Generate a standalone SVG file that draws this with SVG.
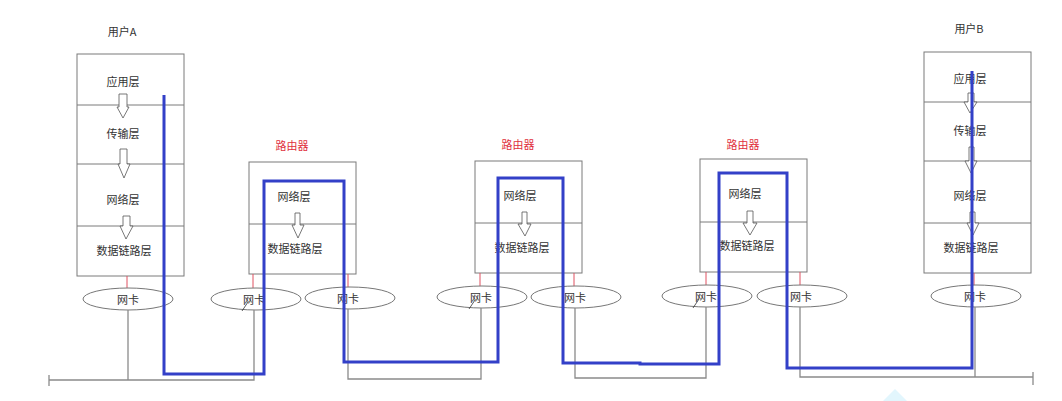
<svg xmlns="http://www.w3.org/2000/svg" width="1062" height="401" viewBox="0 0 1062 401">
<style>
.box{fill:#fff;stroke:#7a7a7a;stroke-width:1}
.div{stroke:#7a7a7a;stroke-width:1}
.t{font-family:"Noto Sans CJK SC","Liberation Sans",sans-serif;font-size:11px;fill:#333;text-anchor:middle;dominant-baseline:central}
.r{font-family:"Noto Sans CJK SC","Liberation Sans",sans-serif;font-size:11px;fill:#e0303c;text-anchor:middle;dominant-baseline:central}
.arr{fill:#fff;stroke:#555;stroke-width:0.8}
.nic{fill:#fff;stroke:#777;stroke-width:1}
.red{stroke:#e05060;stroke-width:1}
.wire{fill:none;stroke:#8a8a8a;stroke-width:1.3}
.path{fill:none;stroke:#3340c8;stroke-width:3;stroke-linejoin:miter}
.tick{stroke:#333;stroke-width:0.8}
</style>
<rect width="1062" height="401" fill="#fff"/>
<polygon points="895,389 883,401 907,401" fill="#e2f6fd"/>

<g id="userA">
<text class="t" x="122" y="31">用户A</text>
<rect class="box" x="77" y="54" width="107" height="222"/>
<line class="div" x1="77" y1="105" x2="184" y2="105"/>
<line class="div" x1="77" y1="164" x2="184" y2="164"/>
<line class="div" x1="77" y1="226" x2="184" y2="226"/>
<text class="t" x="123" y="81">应用层</text>
<text class="t" x="123" y="133">传输层</text>
<text class="t" x="123" y="199">网络层</text>
<text class="t" x="124" y="250">数据链路层</text>
<polygon class="arr" points="119,94 127,94 127,107 129,107 123,118 117,107 119,107"/>
<polygon class="arr" points="120,149 127,149 127,164 130,164 124,178 118,164 120,164"/>
<polygon class="arr" points="123,216 130,216 130,226 133,226 126,239 120,226 123,226"/>
</g>

<g id="routerA">
<text class="r" x="292" y="145">路由器</text>
<rect class="box" x="249" y="162" width="107" height="112"/>
<line class="div" x1="249" y1="224" x2="356" y2="224"/>
<text class="t" x="294" y="196">网络层</text>
<text class="t" x="295" y="248">数据链路层</text>
<polygon class="arr" points="295,213 300,213 300,225 304,225 298,238 292,225 295,225"/>
</g>

<g id="routerB">
<text class="r" x="518" y="144">路由器</text>
<rect class="box" x="475" y="161" width="107" height="112"/>
<line class="div" x1="475" y1="223" x2="582" y2="223"/>
<text class="t" x="520" y="195">网络层</text>
<text class="t" x="522" y="247">数据链路层</text>
<polygon class="arr" points="522,212 527,212 527,224 531,224 525,236 518,224 522,224"/>
</g>

<g id="routerC">
<text class="r" x="743" y="144">路由器</text>
<rect class="box" x="700" y="159" width="107" height="113"/>
<line class="div" x1="700" y1="222" x2="807" y2="222"/>
<text class="t" x="745" y="193">网络层</text>
<text class="t" x="747" y="245">数据链路层</text>
<polygon class="arr" points="747,211 753,211 753,223 757,223 750,235 743,223 747,223"/>
</g>

<g id="userB">
<text class="t" x="969" y="28">用户B</text>
<rect class="box" x="924" y="52" width="107" height="221"/>
<line class="div" x1="924" y1="102" x2="1031" y2="102"/>
<line class="div" x1="924" y1="161" x2="1031" y2="161"/>
<line class="div" x1="924" y1="223" x2="1031" y2="223"/>
<text class="t" x="970" y="78">应用层</text>
<text class="t" x="970" y="130">传输层</text>
<text class="t" x="970" y="195">网络层</text>
<text class="t" x="971" y="247">数据链路层</text>
<polygon class="arr" points="968,93 974,93 974,102 977,102 970,113 964,102 968,102"/>
<polygon class="arr" points="969,147 974,147 974,161 977,161 971,173 965,161 969,161"/>
<polygon class="arr" points="970,212 975,212 975,223 979,223 973,235 967,223 970,223"/>
</g>

<g id="nics">
<line class="red" x1="127" y1="276" x2="127" y2="288"/>
<line class="red" x1="253" y1="274" x2="253" y2="288"/>
<line class="red" x1="348" y1="274" x2="348" y2="288"/>
<line class="red" x1="480" y1="273" x2="480" y2="288"/>
<line class="red" x1="574" y1="273" x2="574" y2="288"/>
<line class="red" x1="706" y1="272" x2="706" y2="288"/>
<line class="red" x1="800" y1="272" x2="800" y2="288"/>
<line class="red" x1="974" y1="273" x2="974" y2="288"/>
<g id="nicA"><ellipse class="nic" cx="128" cy="299" rx="45" ry="11"/><text class="t" x="128" y="299">网卡</text></g>
<g id="nicR1L"><ellipse class="nic" cx="256" cy="299" rx="45" ry="11"/><text class="t" x="254" y="299">网卡</text></g>
<g id="nicR1R"><ellipse class="nic" cx="350" cy="298" rx="45" ry="11"/><text class="t" x="348" y="298">网卡</text></g>
<g id="nicR2L"><ellipse class="nic" cx="482" cy="297" rx="45" ry="11"/><text class="t" x="481" y="297">网卡</text></g>
<g id="nicR2R"><ellipse class="nic" cx="576" cy="297" rx="45" ry="11"/><text class="t" x="575" y="297">网卡</text></g>
<g id="nicR3L"><ellipse class="nic" cx="707" cy="296" rx="45" ry="11"/><text class="t" x="706" y="296">网卡</text></g>
<g id="nicR3R"><ellipse class="nic" cx="802" cy="296" rx="45" ry="11"/><text class="t" x="801" y="296">网卡</text></g>
<g id="nicB"><ellipse class="nic" cx="976" cy="296" rx="45" ry="11"/><text class="t" x="975" y="296">网卡</text></g>
<line class="tick" x1="242" y1="311" x2="248" y2="302"/>
<line class="tick" x1="469" y1="309" x2="475" y2="300"/>
<line class="tick" x1="693" y1="308" x2="699" y2="299"/>
</g>

<g id="connectors">
<polyline class="wire" points="128,310 128,380"/>
<polyline class="wire" points="49,380 254,380 254,310"/>
<line class="wire" x1="49" y1="375" x2="49" y2="386"/>
<polyline class="wire" points="348,309 348,379 481,379 481,308"/>
<polyline class="wire" points="575,308 575,378 706,378 706,307"/>
<polyline class="wire" points="800,307 800,377 1033,377"/>
<line class="wire" x1="1033" y1="372" x2="1033" y2="385"/>
<polyline class="wire" points="975,307 975,377"/>
<polyline class="path" points="164,95 164,374 264,374 264,181 344,181 344,362 498,362 498,178 563,178 563,363 640,363 640,364 719,364 719,173 787,173 787,368 972,368 972,71"/>
</g>
</svg>
